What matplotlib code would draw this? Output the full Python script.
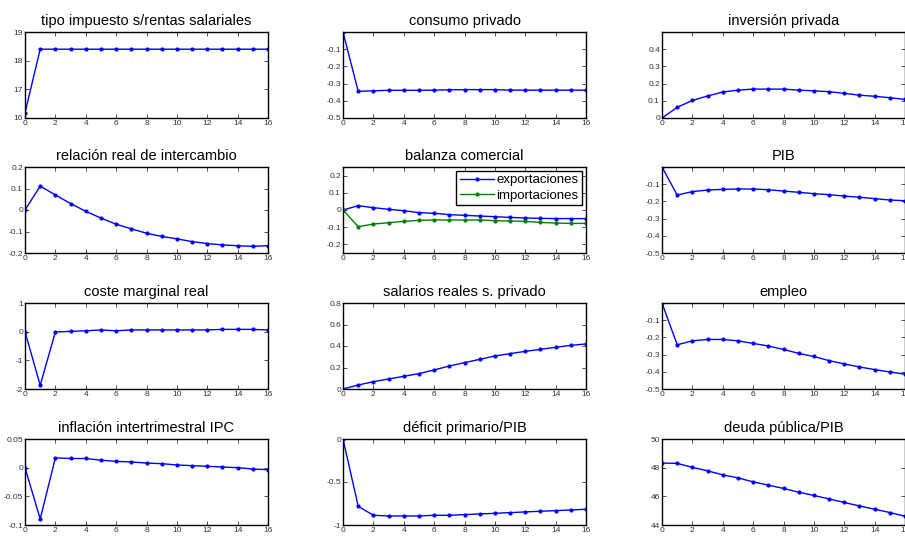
import numpy as np
import matplotlib
matplotlib.use("Agg")
import matplotlib.pyplot as plt

plt.rcParams['font.family'] = ['Liberation Sans', 'DejaVu Sans']

t = list(range(17))

# data
tipo_impuesto = [16.18] + [18.4] * 16
consumo = [0, -0.345, -0.342, -0.339, -0.339, -0.339, -0.338, -0.336, -0.335,
           -0.335, -0.335, -0.338, -0.338, -0.338, -0.338, -0.338, -0.338]
inversion = [0, 0.062, 0.102, 0.128, 0.151, 0.162, 0.168, 0.168, 0.168, 0.162,
             0.158, 0.153, 0.143, 0.133, 0.126, 0.118, 0.108]
rri = [0, 0.111, 0.070, 0.030, -0.006, -0.0375, -0.066, -0.0875, -0.108, -0.123,
       -0.134, -0.147, -0.156, -0.1625, -0.166, -0.169, -0.166]
exportaciones = [0, 0.025, 0.0136, 0.004, -0.004, -0.0155, -0.019, -0.027, -0.031,
                 -0.035, -0.039, -0.043, -0.0466, -0.0485, -0.05, -0.05, -0.05]
importaciones = [0, -0.097, -0.0816, -0.074, -0.066, -0.060, -0.058, -0.058, -0.058,
                 -0.058, -0.062, -0.064, -0.066, -0.072, -0.076, -0.078, -0.078]
pib = [0, -0.163, -0.143, -0.134, -0.130, -0.128, -0.128, -0.132, -0.140, -0.147,
       -0.155, -0.161, -0.169, -0.176, -0.184, -0.192, -0.196]
coste_marginal = [0, -1.87, -0.01, 0.01, 0.03, 0.06, 0.03, 0.06, 0.06, 0.06, 0.06,
                  0.06, 0.06, 0.08, 0.08, 0.08, 0.06]
salarios = [0, 0.037, 0.068, 0.093, 0.118, 0.143, 0.177, 0.214, 0.245, 0.276,
            0.307, 0.329, 0.35, 0.369, 0.388, 0.406, 0.419]
empleo = [0, -0.243, -0.22, -0.212, -0.212, -0.22, -0.235, -0.25, -0.27, -0.293,
          -0.311, -0.335, -0.354, -0.372, -0.387, -0.401, -0.414]
inflacion = [0, -0.0894, 0.017, 0.016, 0.016, 0.013, 0.011, 0.010, 0.008, 0.007,
             0.0047, 0.0035, 0.0024, 0.0012, 0, -0.0024, -0.0035]
deficit = [0, -0.782, -0.887, -0.895, -0.895, -0.895, -0.887, -0.887, -0.879,
           -0.872, -0.864, -0.856, -0.848, -0.84, -0.833, -0.825, -0.817]
deuda = [48.32, 48.30, 48.02, 47.78, 47.50, 47.29, 47.01, 46.78, 46.55, 46.29,
         46.06, 45.82, 45.57, 45.33, 45.10, 44.87, 44.61]

titles = ['tipo impuesto s/rentas salariales', 'consumo privado', 'inversión privada',
          'relación real de intercambio', 'balanza comercial', 'PIB',
          'coste marginal real', 'salarios reales s. privado', 'empleo',
          'inflación intertrimestral IPC', 'déficit primario/PIB', 'deuda pública/PIB']
series = [tipo_impuesto, consumo, inversion, rri, None, pib,
          coste_marginal, salarios, empleo, inflacion, deficit, deuda]
ylims = [(16, 19), (-0.5, 0), (0, 0.5), (-0.2, 0.2), (-0.25, 0.25), (-0.5, 0),
         (-2, 1), (0, 0.8), (-0.5, 0), (-0.1, 0.05), (-1, 0), (44, 50)]
yticks = [[16, 17, 18, 19], [-0.5, -0.4, -0.3, -0.2, -0.1], [0, 0.1, 0.2, 0.3, 0.4],
          [-0.2, -0.1, 0, 0.1, 0.2], [-0.2, -0.1, 0, 0.1, 0.2], [-0.5, -0.4, -0.3, -0.2, -0.1],
          [-2, -1, 0, 1], [0, 0.2, 0.4, 0.6, 0.8], [-0.5, -0.4, -0.3, -0.2, -0.1],
          [-0.1, -0.05, 0, 0.05], [-1, -0.5, 0], [44, 46, 48, 50]]

fig = plt.figure(figsize=(9.05, 5.36), dpi=100)

lefts = [25, 343, 662]
tops = [32, 167, 303, 439]
W, H = 243, 86

for i in range(12):
    r, c = divmod(i, 3)
    ax = fig.add_axes([lefts[c] / 905, 1 - (tops[r] + H) / 536, W / 905, H / 536])
    if series[i] is None:
        ax.plot(t, exportaciones, 'b.-', lw=1, ms=4, label='exportaciones')
        ax.plot(t, importaciones, '.-', color='#008000', lw=1, ms=4, label='importaciones')
        leg = ax.legend(loc='upper right', fontsize=9.5, fancybox=False, framealpha=1,
                        borderpad=0.25, handlelength=2.6, handletextpad=0.2,
                        labelspacing=0.25, borderaxespad=0.3)
        leg.get_frame().set_edgecolor('black')
        leg.get_frame().set_linewidth(1.0)
    else:
        ax.plot(t, series[i], 'b.-', lw=1, ms=4)
    ax.set_xlim(0, 16)
    ax.set_ylim(*ylims[i])
    ax.set_xticks(range(0, 17, 2))
    ax.set_yticks(yticks[i])
    ax.set_yticklabels([('%g' % v) for v in yticks[i]])
    ax.tick_params(direction='in', top=True, right=True, labelsize=6, length=3,
                   width=0.6, pad=1.5, colors='#333333')
    for s in ax.spines.values():
        s.set_linewidth(1.0)
    ax.set_title(titles[i], fontsize=10.5, pad=5)

fig.savefig('out.png', dpi=100)
